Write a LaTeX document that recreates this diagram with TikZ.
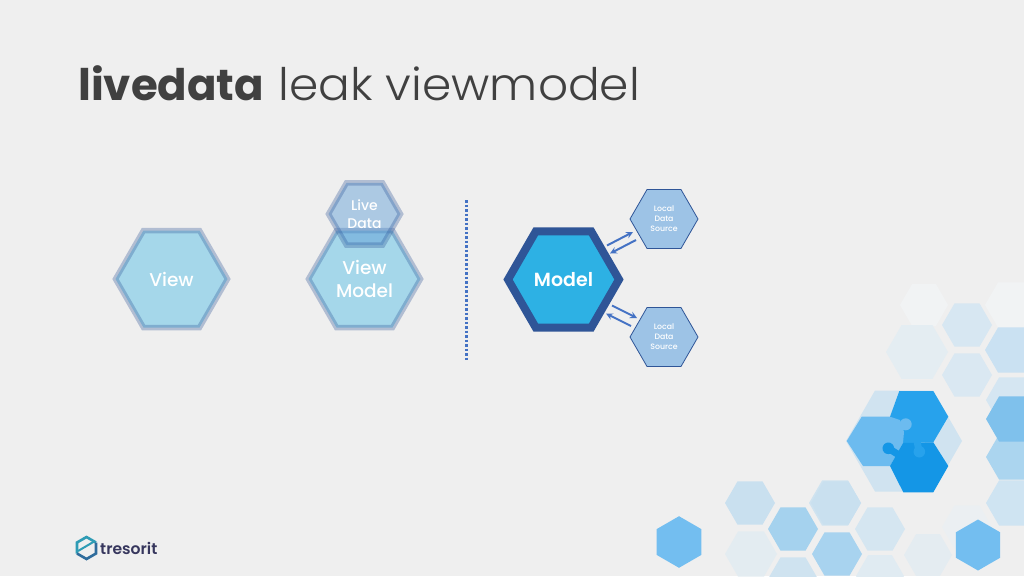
\documentclass[tikz,border=0pt]{standalone}
\usepackage{fontspec}
\setmainfont{Poppins}
\newfontfamily\lightfont[FakeStretch=1.05]{Poppins Light}
\newfontfamily\hexfont{Poppins Medium}
\newfontfamily\strongfont{Poppins SemiBold}
\usetikzlibrary{shapes.geometric,calc}
\definecolor{slidebg}{HTML}{EFEFEF}
\definecolor{titlegray}{HTML}{404040}
\definecolor{modelblue}{HTML}{2F5597}
\definecolor{modelfill}{HTML}{2DB1E4}
\definecolor{livefill}{HTML}{5B9BD5}
\definecolor{sourcefill}{HTML}{9DC3E6}
\definecolor{flowblue}{HTML}{4472C4}
\definecolor{piecetop}{HTML}{27A2EC}
\definecolor{piecelow}{HTML}{1496E6}
\definecolor{pieceleft}{HTML}{6CBBEF}
\definecolor{piecebase}{HTML}{D0E3F0}
\definecolor{logoteal}{HTML}{2F9CB5}
\definecolor{logonavy}{HTML}{2F6C9C}
\tikzset{
  hexbase/.style={regular polygon,regular polygon sides=6,inner sep=0pt,outer sep=0pt,text=white,align=center},
  hexfaded/.style={hexbase,draw=modelblue,fill=modelfill,draw opacity=.32,fill opacity=.38,text opacity=1,line width=5.5pt,minimum size=112pt,font=\hexfont\fontsize{18.5}{23}\selectfont},
  hexlive/.style={hexbase,draw=modelblue,fill=livefill,draw opacity=.32,fill opacity=.45,text opacity=1,line width=5.5pt,minimum size=72pt,font=\hexfont\fontsize{14}{18}\selectfont},
  hexmodel/.style={hexbase,draw=modelblue,fill=modelfill,line width=8pt,minimum size=111pt,font=\strongfont\fontsize{19}{23}\selectfont},
  hexsource/.style={hexbase,draw=modelblue,fill=sourcefill,line width=.8pt,minimum size=68pt,execute at begin node={\vspace*{3.5pt}},font=\hexfont\fontsize{7.8}{10}\selectfont},
  flow/.style={draw=flowblue,line width=2pt,->,>=stealth}
}
\begin{document}
\begin{tikzpicture}[x=1pt,y=-1pt,line join=miter]
  \fill[slidebg] (0,0) rectangle (1024,576);
  \useasboundingbox (0,0) rectangle (1024,576);
  % decoration, flat hexagons
  \clip (0,0) rectangle (1024,576);
  \foreach \cx/\cy/\rr/\tint in {924/305/24/F1F3F4,1011/305/26/F1F3F4,967/325/25/D7E7F2,917/352/31/E4EDF2,967/375/25/DAE8F2,1011/350/26/CAE1F2,1012/400/26/D5E6F2,1012/457/26/ABD5EF,1012/419/26/7FC1EC,1012/503/26/CFE4F2,967/527/25/EBEFF2,835/503/26/CFE3F0,880/529/25/D5E6F1,750/503/25/C9E0EF,793/529/25/A5D2EE,836/503/25/C9E0EF,751/554/26/E3ECF1,837/554/25/A8D3EF,793/579/25/CFE3F0,928/555/24/E4ECF1,880/576/24/E0EBF2}{
    \definecolor{tint}{HTML}{\tint}
    \fill[tint] (\cx+\rr,\cy)--(\cx+\rr/2,\cy+\rr*.866)--(\cx-\rr/2,\cy+\rr*.866)--(\cx-\rr,\cy)--(\cx-\rr/2,\cy-\rr*.866)--(\cx+\rr/2,\cy-\rr*.866)--cycle;
  }
  % pointy hexagons
  \foreach \cx/\cy/\rr in {978/545/25.5,679/542/25.8}{
    \fill[pieceleft!95!white] (\cx,\cy-\rr)--(\cx+\rr*.866,\cy-\rr/2)--(\cx+\rr*.866,\cy+\rr/2)--(\cx,\cy+\rr)--(\cx-\rr*.866,\cy+\rr/2)--(\cx-\rr*.866,\cy-\rr/2)--cycle;
  }
  % puzzle
  \fill[piecebase] (962,441)--(933,491.5)--(875,491.5)--(846,441)--(875,390.5)--(933,390.5)--cycle;
  \fill[piecetop] (899.3,391)--(933.3,391)--(948.3,416.7)--(933.3,442.3)--(903,443)--(890,416.7)--cycle;
  \fill[pieceleft] (861.7,416.7)--(890,416.7)--(900,420)--(904,432)--(903,443)--(890,466)--(863,466)--(846.7,441)--cycle;
  \fill[pieceleft] (905.7,424.3) circle (6);
  \fill[piecelow] (890,466)--(903,443)--(933.3,442.3)--(948.3,466)--(933.3,492.3)--(903.3,492.3)--cycle;
  \draw[piecelow,line width=7pt] (888.3,448.3)--(899,455);
  \fill[piecelow] (888.3,448.3) circle (5.8);
  \draw[piecetop,line width=7pt] (919,451)--(917,441);
  \fill[piecetop] (919.3,451.7) circle (5.8);
  % title
  \node[anchor=base west,inner sep=0pt,text=titlegray,font=\fontsize{43.5}{44}\selectfont] (title) at (78,100.5) {\textbf{livedata}\hspace{14.5pt}{\lightfont\fontsize{44.8}{44}\selectfont leak viewmodel}};
  % hexagons
  \node[hexfaded] (view) at (171.5,279) {View};
  \node[hexfaded] (viewmodel) at (364.5,279) {View\\Model};
  \node[hexlive] (livedata) at (364.5,214) {Live\\Data};
  \node[hexmodel] (model) at (563.5,279.5) {Model};
  \node[hexsource] (sourceup) at (664,219) {Local\\Data\\Source};
  \node[hexsource] (sourcedown) at (664,337) {Local\\Data\\Source};
  % divider
  \coordinate (divtop) at (466.5,200);
  \coordinate (divbot) at (466.5,360);
  \draw[flowblue,line width=2.5pt,dotted] (divtop)--(divbot);
  % arrows
  \draw[flow] ([shift={(43.5,-34)}]model.center)--([shift={(-31,13)}]sourceup.center);
  \draw[flow] ([shift={(-28,21)}]sourceup.center)--([shift={(46.5,-26)}]model.center);
  \draw[flow] ([shift={(48.5,26)}]model.center)--([shift={(-27,-19)}]sourcedown.center);
  \draw[flow] ([shift={(-33,-11)}]sourcedown.center)--([shift={(42.5,34)}]model.center);
  % logo
  \draw[logoteal,line width=2.6pt] (77,553.5)--(77,542.5)--(86.5,537)--(96,542.5);
  \draw[logonavy,line width=2.6pt] (96,542.5)--(96,553.5)--(86.5,559)--(77,553.5);
  \draw[logoteal,line width=2pt] (78,551)--(95,541);
  \node[anchor=base west,inner sep=0pt,text=titlegray!85!blue,font=\strongfont\fontsize{15.6}{16}\selectfont] (brand) at (100,554) {tresorit};
\end{tikzpicture}
\end{document}
